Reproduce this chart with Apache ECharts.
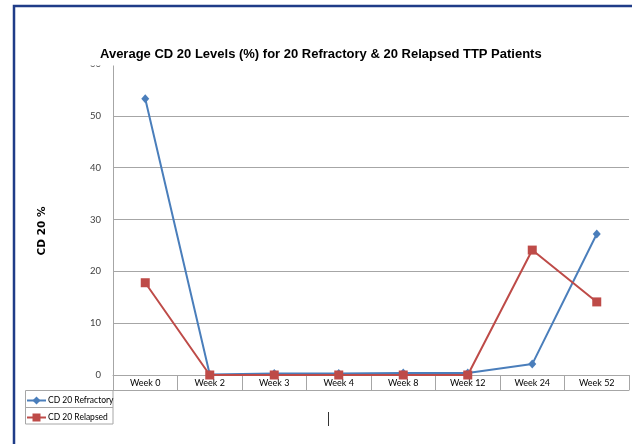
<!DOCTYPE html>
<html>
<head>
<meta charset="utf-8">
<script src="https://cdn.jsdelivr.net/npm/echarts@6/dist/echarts.min.js"></script>
<style>
  html, body { margin: 0; padding: 0; background: #fff; }
  #chart { width: 632px; height: 444px; }
</style>
</head>
<body>
<div id="chart"></div>
<script>
// Weekly sampling points
const weeks = ['Week 0', 'Week 2', 'Week 3', 'Week 4', 'Week 8', 'Week 12', 'Week 24', 'Week 52'];
// Average CD 20 level (%) per group
const refractory = [53.3, 0.1, 0.3, 0.3, 0.4, 0.4, 2.1, 27.2];
const relapsed = [17.8, 0, 0, 0, 0, 0, 24.1, 14.1];
// Value axis ticks
const yMin = 0, yMax = 60, yStep = 10;

const gridGray = '#a6a6a6';
const textDark = '#404040';
const blue = '#4a7ebb';
const red = '#be4b48';

const chart = echarts.init(document.getElementById('chart'));
chart.setOption({
  animation: false,
  backgroundColor: '#fff',
  title: {
    text: 'Average CD 20 Levels (%) for 20 Refractory & 20 Relapsed TTP Patients',
    left: 98,
    top: 46,
    padding: [2, 2, 5, 2],
    z: 60,
    textStyle: { fontFamily: 'Liberation Sans', fontWeight: 'bold', fontSize: 13, color: '#000' }
  },
  grid: { left: 113, right: 3, top: 64, bottom: 69, containLabel: false },
  legend: {
    orient: 'vertical',
    left: 26,
    top: 396,
    padding: 0,
    itemGap: 8,
    itemWidth: 19,
    itemHeight: 10,
    textStyle: { fontFamily: 'Lato', fontSize: 8.5, color: '#000', padding: [0, 0, 0, -3] },
    data: ['CD 20 Refractory', 'CD 20 Relapsed']
  },
  xAxis: [
    {
      type: 'category',
      data: weeks,
      boundaryGap: true,
      axisLine: { lineStyle: { color: gridGray, width: 1 } },
      axisTick: { show: true, interval: 0, length: 15, lineStyle: { color: gridGray } },
      axisLabel: { interval: 0, margin: 4, fontFamily: 'Lato', fontSize: 9, color: '#000' }
    },
    {
      type: 'category',
      data: weeks,
      position: 'bottom',
      offset: 15,
      axisLine: { lineStyle: { color: gridGray, width: 1 } },
      axisTick: { show: false },
      axisLabel: { show: false }
    }
  ],
  yAxis: {
    type: 'value',
    min: yMin,
    max: yMax,
    interval: yStep,
    axisLine: { show: true, lineStyle: { color: gridGray, width: 1 } },
    axisTick: { show: false },
    axisLabel: { margin: 12, fontFamily: 'Lato', fontSize: 9.5, color: textDark },
    splitLine: { show: true, showMaxLine: false, lineStyle: { color: gridGray, width: 1 } }
  },
  series: [
    {
      name: 'CD 20 Refractory',
      type: 'line',
      data: refractory,
      symbol: 'diamond',
      symbolSize: [8, 9],
      lineStyle: { color: blue, width: 2 },
      itemStyle: { color: blue },
      z: 2
    },
    {
      name: 'CD 20 Relapsed',
      type: 'line',
      data: relapsed,
      symbol: 'rect',
      symbolSize: 9,
      lineStyle: { color: red, width: 2 },
      itemStyle: { color: red },
      z: 3
    }
  ],
  graphic: [
    // title strip masks the top of the value axis
    { type: 'rect', shape: { x: 80, y: 44, width: 40, height: 21.5 },
      style: { fill: '#fff' }, z: 50 },
    // window frame
    { type: 'polyline', shape: { points: [[14, 444], [14, 6], [632, 6]] },
      style: { stroke: '#1f3c88', lineWidth: 2.5, fill: null }, z: 10 },
    // legend key box
    { type: 'rect', shape: { x: 25.5, y: 390.5, width: 87.5, height: 33.5 },
      style: { stroke: gridGray, lineWidth: 1, fill: null }, z: 1 },
    { type: 'line', shape: { x1: 25.5, y1: 407.5, x2: 113, y2: 407.5 },
      style: { stroke: gridGray, lineWidth: 1 }, z: 1 },
    // value axis title
    { type: 'text', x: 42, y: 231, rotation: Math.PI / 2,
      style: { text: 'CD 20 %', fontFamily: 'DejaVu Sans', fontWeight: 'bold', fontSize: 10.5,
               fill: '#000', align: 'center', verticalAlign: 'middle' } },
    // text caret
    { type: 'line', shape: { x1: 328.5, y1: 412, x2: 328.5, y2: 426 },
      style: { stroke: '#333', lineWidth: 1 } }
  ]
});
</script>
</body>
</html>
